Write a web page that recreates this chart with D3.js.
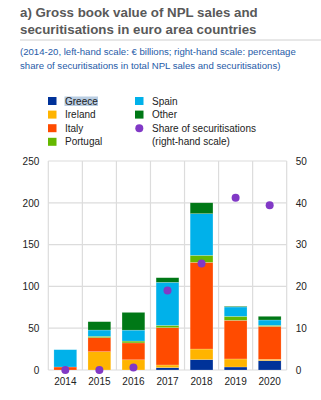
<!DOCTYPE html>
<html>
<head>
<meta charset="utf-8">
<script src="https://cdn.jsdelivr.net/npm/d3@7"></script>
<style>
  body { margin: 0; background: #fff; }
  svg { font-family: "Liberation Sans", Arial, sans-serif; }
</style>
</head>
<body>
<svg id="chart"></svg>
<script>
// values (EUR billions, share in %)
const years = ["2014", "2015", "2016", "2017", "2018", "2019", "2020"];
const greece = [0, 0, 0, 2.8, 12.4, 3.6, 11.2];
const ireland = [0, 21.9, 12.2, 3.2, 12.7, 9.6, 1.6];
const italy = [3.6, 16.8, 20.2, 44.6, 103.7, 46.2, 39.4];
const portugal = [0, 1.6, 2.2, 2.8, 8.4, 4.8, 1.2];
const spain = [20.7, 7.5, 13.1, 51.5, 49.8, 11.2, 6.4];
const other = [0, 10, 21.2, 5.5, 13, 0.8, 4.4];
const share = [0, 0, 0.6, 19, 25.5, 41.2, 39.4];
const leftTicks = [0, 50, 100, 150, 200, 250];
const rightTicks = [0, 10, 20, 30, 40, 50];

const width = 321;
const height = 400;
const margin = { top: 161, right: 34.3, bottom: 30, left: 48.3 };
const fontFam = "'Liberation Sans', Arial, sans-serif";

const series = [
  { name: "Greece", values: greece, color: "#003299" },
  { name: "Ireland", values: ireland, color: "#ffb400" },
  { name: "Italy", values: italy, color: "#ff4b00" },
  { name: "Portugal", values: portugal, color: "#65b800" },
  { name: "Spain", values: spain, color: "#00b1ea" },
  { name: "Other", values: other, color: "#007816" }
];
const shareColor = "#8139c6";

const svg = d3.select("#chart").attr("width", width).attr("height", height);

// title block
const title = svg.append("text").attr("fill", "#595959").attr("font-size", 13.3).attr("font-weight", "bold");
title.append("tspan").attr("x", 20).attr("y", 17).text("a) Gross book value of NPL sales and");
title.append("tspan").attr("x", 20).attr("y", 33.5).text("securitisations in euro area countries");

svg.append("line")
  .attr("x1", 20).attr("x2", width).attr("y1", 40).attr("y2", 40)
  .attr("stroke", "#d0d0d0").attr("stroke-width", 1);

const sub = svg.append("text").attr("fill", "#1f5ba8").attr("font-size", 9.6);
sub.append("tspan").attr("x", 20).attr("y", 54.5).text("(2014-20, left-hand scale: € billions; right-hand scale: percentage");
sub.append("tspan").attr("x", 20).attr("y", 68.5).text("share of securitisations in total NPL sales and securitisations)");

// legend
const legendRows = [
  { name: "Greece", color: "#003299", col: 0, row: 0 },
  { name: "Ireland", color: "#ffb400", col: 0, row: 1 },
  { name: "Italy", color: "#ff4b00", col: 0, row: 2 },
  { name: "Portugal", color: "#65b800", col: 0, row: 3 },
  { name: "Spain", color: "#00b1ea", col: 1, row: 0 },
  { name: "Other", color: "#007816", col: 1, row: 1 }
];
const legX = [48, 135];
const legY = r => 101 + r * 13.6;

// selection highlight seen behind "Greece"
svg.append("rect")
  .attr("x", 64.5).attr("y", 96.5).attr("width", 33.5).attr("height", 9.5)
  .attr("fill", "#b9cde2");

const leg = svg.append("g").attr("font-size", 10).attr("fill", "#222");
legendRows.forEach(d => {
  leg.append("rect")
    .attr("x", legX[d.col]).attr("y", legY(d.row) - 4)
    .attr("width", 8.5).attr("height", 8)
    .attr("fill", d.color);
  leg.append("text")
    .attr("x", legX[d.col] + 17).attr("y", legY(d.row) + 3.6)
    .text(d.name);
});
leg.append("circle").attr("cx", legX[1] + 4.3).attr("cy", legY(2)).attr("r", 4).attr("fill", shareColor);
leg.append("text").attr("x", legX[1] + 17).attr("y", legY(2) + 3.6).text("Share of securitisations");
leg.append("text").attr("x", legX[1] + 17).attr("y", legY(3) + 3.6).text("(right-hand scale)");

// chart
const chartW = width - margin.left - margin.right;
const chartH = height - margin.top - margin.bottom;
const g = svg.append("g").attr("transform", `translate(${margin.left},${margin.top})`);

const xScale = d3.scaleBand().domain(years).range([0, chartW])
  .paddingInner(0.33).paddingOuter(0.165);
const yScale = d3.scaleLinear().domain([0, 250]).range([chartH, 0]);
const yRight = d3.scaleLinear().domain([0, 50]).range([chartH, 0]);

// grid
g.selectAll(".hgrid").data(leftTicks).enter().append("line")
  .attr("x1", 0).attr("x2", chartW)
  .attr("y1", d => yScale(d)).attr("y2", d => yScale(d))
  .attr("stroke", "#dcdcdc").attr("stroke-width", 1.2);
g.selectAll(".vgrid").data(d3.range(years.length + 1)).enter().append("line")
  .attr("x1", i => i * xScale.step()).attr("x2", i => i * xScale.step())
  .attr("y1", 0).attr("y2", chartH)
  .attr("stroke", "#dcdcdc").attr("stroke-width", 1.2);

// stacked bars
const rows = years.map((y, i) => {
  const r = { year: y };
  series.forEach(s => { r[s.name] = s.values[i]; });
  return r;
});
const stacked = d3.stack().keys(series.map(s => s.name))(rows);
g.selectAll(".layer").data(stacked).enter().append("g")
  .attr("fill", (d, i) => series[i].color)
  .selectAll("rect").data(d => d).enter().append("rect")
  .attr("x", d => xScale(d.data.year))
  .attr("width", xScale.bandwidth())
  .attr("y", d => yScale(d[1]))
  .attr("height", d => yScale(d[0]) - yScale(d[1]))
  .attr("stroke", "#ffffff").attr("stroke-opacity", 0.4).attr("stroke-width", 0.5);

// share dots
g.selectAll(".dot").data(share).enter().append("circle")
  .attr("cx", (d, i) => xScale(years[i]) + xScale.bandwidth() / 2)
  .attr("cy", d => yRight(d))
  .attr("r", 4)
  .attr("fill", shareColor);

// axes
const axisLeft = g.append("g").call(d3.axisLeft(yScale).tickValues(leftTicks).tickSize(0).tickPadding(9));
const axisRight = g.append("g").attr("transform", `translate(${chartW},0)`)
  .call(d3.axisRight(yRight).tickValues(rightTicks).tickSize(0).tickPadding(9));
const axisBottom = g.append("g").attr("transform", `translate(0,${chartH})`)
  .call(d3.axisBottom(xScale).tickSize(0).tickPadding(8));
[axisLeft, axisRight, axisBottom].forEach(a => {
  a.select(".domain").remove();
  a.selectAll("text").attr("font-size", 10).attr("fill", "#222")
    .attr("font-family", fontFam);
});
</script>
</body>
</html>
